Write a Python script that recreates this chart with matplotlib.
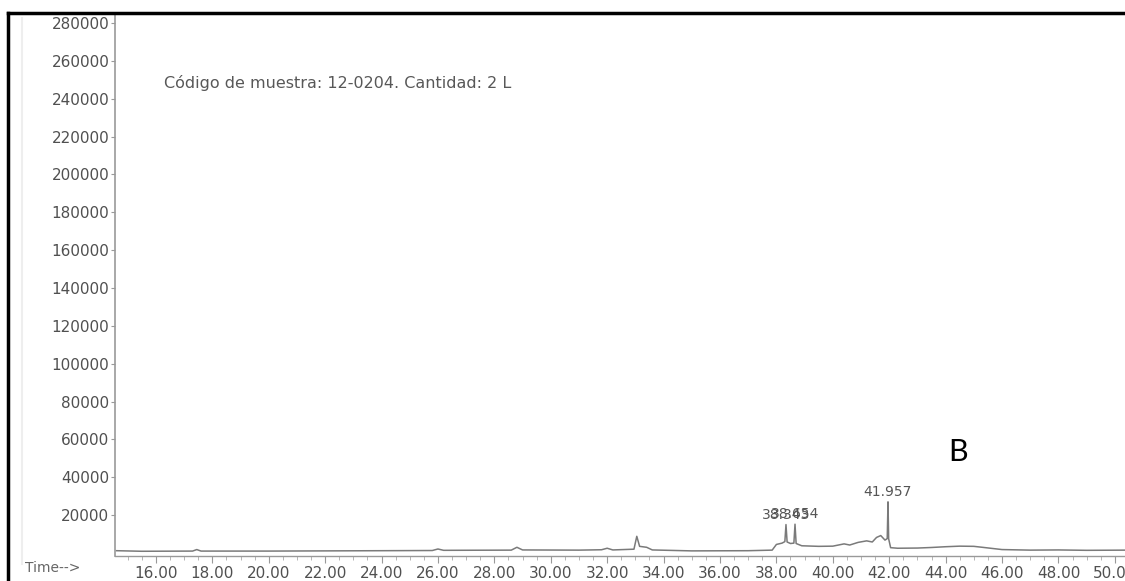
import matplotlib
matplotlib.use("Agg")
import matplotlib.pyplot as plt
from matplotlib.lines import Line2D
from matplotlib.ticker import MultipleLocator

# total ion chromatogram, sample 12-0204
times = [14.60, 15.50, 17.30, 17.45, 17.60, 20.00, 22.00, 24.00, 25.80, 26.00,
         26.20, 28.60, 28.80, 29.00, 31.00, 31.80, 32.00, 32.20, 32.95, 33.05,
         33.15, 33.40, 33.60, 35.00, 37.00, 37.85, 38.00, 38.20, 38.30, 38.34,
         38.38, 38.50, 38.62, 38.66, 38.70, 38.90, 39.50, 40.00, 40.40, 40.60,
         40.90, 41.20, 41.40, 41.55, 41.70, 41.85, 41.93, 41.957, 41.98, 42.05,
         42.30, 43.00, 43.50, 44.00, 44.50, 45.00, 45.30, 46.00, 47.00, 48.00,
         49.00, 50.40]
abundance = [1200, 900, 1000, 1800, 1000, 1000, 1100, 1200, 1300, 2100,
             1400, 1500, 3000, 1600, 1500, 1700, 2500, 1600, 2000, 8800,
             3500, 3000, 1600, 1100, 1200, 1500, 4500, 5200, 6000, 15000,
             5800, 5000, 5200, 15200, 5000, 3800, 3500, 3600, 4800, 4200,
             5600, 6400, 5800, 8200, 9200, 6800, 7600, 27000, 7500, 2800,
             2500, 2600, 2900, 3300, 3600, 3500, 3000, 1800, 1500, 1600,
             1400, 1500]

peak_times = [38.343, 38.654, 41.957]
peak_heights = [15000, 15200, 27000]
peak_labels = ["38.343", "38.654", "41.957"]

y_ticks = list(range(20000, 280001, 20000))
x_ticks = list(range(16, 51, 2))

fig = plt.figure(figsize=(11.25, 5.81), dpi=100)
ax = fig.add_axes([115 / 1125, 1 - 556 / 581, 1 - 115 / 1125, (556 - 15) / 581])

ax.plot(times, abundance, color="#7a7a7a", lw=1.1)
for t, h, lab in zip(peak_times, peak_heights, peak_labels):
    ax.text(t, h + 1500, lab, ha="center", va="bottom", fontsize=10, color="#555555")

ax.set_xlim(14.55, 50.36)
ax.set_ylim(-1600, 284200)
ax.set_yticks(y_ticks)
ax.set_yticklabels([str(v) for v in y_ticks])
ax.set_xticks(x_ticks)
ax.set_xticklabels(["%.2f" % v for v in x_ticks])
ax.xaxis.set_minor_locator(MultipleLocator(0.5))

ax.tick_params(axis="y", labelsize=11, labelcolor="#505050", color="#999999",
               length=3, pad=1)
ax.tick_params(axis="x", labelsize=11, labelcolor="#505050", color="#999999",
               length=5, pad=2)
ax.tick_params(axis="x", which="minor", color="#aaaaaa", length=3)

for side in ["top", "right"]:
    ax.spines[side].set_visible(False)
ax.spines["left"].set_color("#999999")
ax.spines["bottom"].set_color("#999999")
ax.spines["left"].set_linewidth(1.2)
ax.spines["bottom"].set_linewidth(1.0)

ax.text(0.049, 0.874, "Código de muestra: 12-0204. Cantidad: 2 L",
        transform=ax.transAxes, fontsize=11.5, color="#585858", va="center")
ax.text(0.825, 0.192, "B", transform=ax.transAxes, fontsize=22,
        family="Lato", color="black", va="center")

fig.text(25 / 1125, 1 - 568 / 581, "Time-->", fontsize=10, color="#666666",
         va="center")

# outer frame
fig.add_artist(Line2D([8 / 1125, 1.0], [1 - 13 / 581, 1 - 13 / 581],
                      color="black", lw=2.5, transform=fig.transFigure))
fig.add_artist(Line2D([8 / 1125, 8 / 1125], [0.0, 1 - 13 / 581],
                      color="black", lw=2.5, transform=fig.transFigure))
fig.add_artist(Line2D([22 / 1125, 22 / 1125], [0.03, 1 - 18 / 581],
                      color="#eeeeee", lw=1.5, transform=fig.transFigure))

fig.savefig("out.png", dpi=100)
